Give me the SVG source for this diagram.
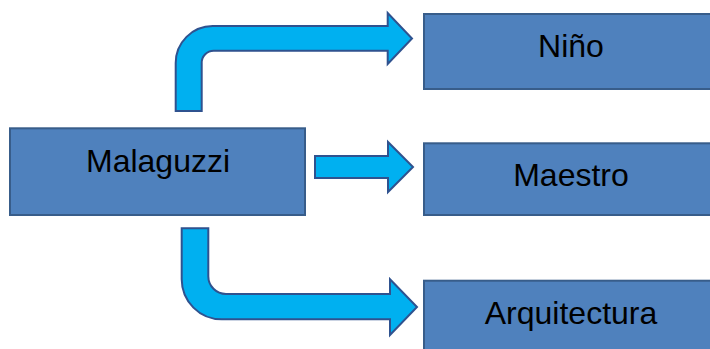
<svg xmlns="http://www.w3.org/2000/svg" width="710" height="349" viewBox="0 0 710 349">
<style>
.node{fill:#4F81BD;stroke:#385D8A;stroke-width:2}
.lbl{font-family:"Liberation Sans",Arial,sans-serif;font-size:32px;fill:#000;text-anchor:middle}
.arr{fill:#00B0F0;stroke:#2F528F;stroke-width:2;stroke-linejoin:miter}
</style>
<rect width="710" height="349" fill="#fff"/>
<g id="connectors">
<path class="arr" d="M175.7 111 L175.7 63 A37 37 0 0 1 212.7 26 L387.7 26 L387.7 13 L412 38.5 L387.7 64 L387.7 50.7 L213.7 50.7 A12 12 0 0 0 201.7 62.7 L201.7 111 Z"/>
<path class="arr" d="M315 156 L388 156 L388 142 L413 167 L388 192 L388 178 L315 178 Z"/>
<path class="arr" d="M181.7 228.3 L181.7 279.3 A40 40 0 0 0 221.7 319.3 L390 319.3 L390 335 L417 307 L390 279.3 L390 294 L226 294 A17.7 17.7 0 0 1 208.3 276.3 L208.3 228.3 Z"/>
</g>
<g id="node-malaguzzi">
<rect class="node" x="10" y="128.3" width="295" height="86.7"/>
<text class="lbl" x="158" y="172">Malaguzzi</text>
</g>
<g id="node-nino">
<rect class="node" x="424" y="14" width="300" height="75"/>
<text class="lbl" x="571" y="57">Niño</text>
</g>
<g id="node-maestro">
<rect class="node" x="424" y="143.3" width="300" height="71.7"/>
<text class="lbl" x="571" y="185.5">Maestro</text>
</g>
<g id="node-arquitectura">
<rect class="node" x="424" y="280.7" width="300" height="80"/>
<text class="lbl" x="571" y="323.5">Arquitectura</text>
</g>
</svg>
